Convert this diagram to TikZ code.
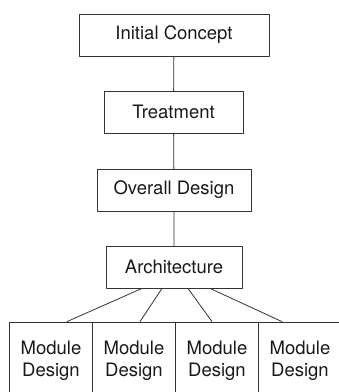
\documentclass[tikz,border=0pt]{standalone}
\usepackage{fontspec}
\setmainfont{TeX Gyre Heros}

\begin{document}
\begin{tikzpicture}[x=1pt,y=-1pt,line cap=round,line join=round,
        box/.style={draw=black!80,line width=.8pt,inner sep=0pt,align=center,
            minimum height=42pt,font=\fontsize{18.5}{22}\selectfont,text=black!90},
        link/.style={draw=black!80,line width=.8pt}]
    \useasboundingbox (0,0) rectangle (339,392);
    \clip (0,0) rectangle (339,392);
    \node[box,minimum width=190pt] (concept) at (174,35) {Initial Concept};
    \node[box,minimum width=139pt] (treatment) at (173.5,112) {Treatment};
    \node[box,minimum width=154pt] (design) at (174,190) {Overall Design};
    \node[box,minimum width=136pt] (arch) at (174,267) {Architecture};
    \draw[link] (concept) -- (treatment)
                (treatment) -- (design)
                (design) -- (arch);
    % module row, cut off at the bottom
    \foreach \i/\x/\s/\e in {1/51/-32/16,2/134/-12/6,3/217/14/-5,4/300/36/-18}{
        \node[box,minimum width=83pt,minimum height=78pt] (mod\i) at (\x,361) {Module\\Design};
        \draw[link] ([xshift=\s pt]arch.south) -- ([xshift=\e pt]mod\i.north);
    }
\end{tikzpicture}
\end{document}
